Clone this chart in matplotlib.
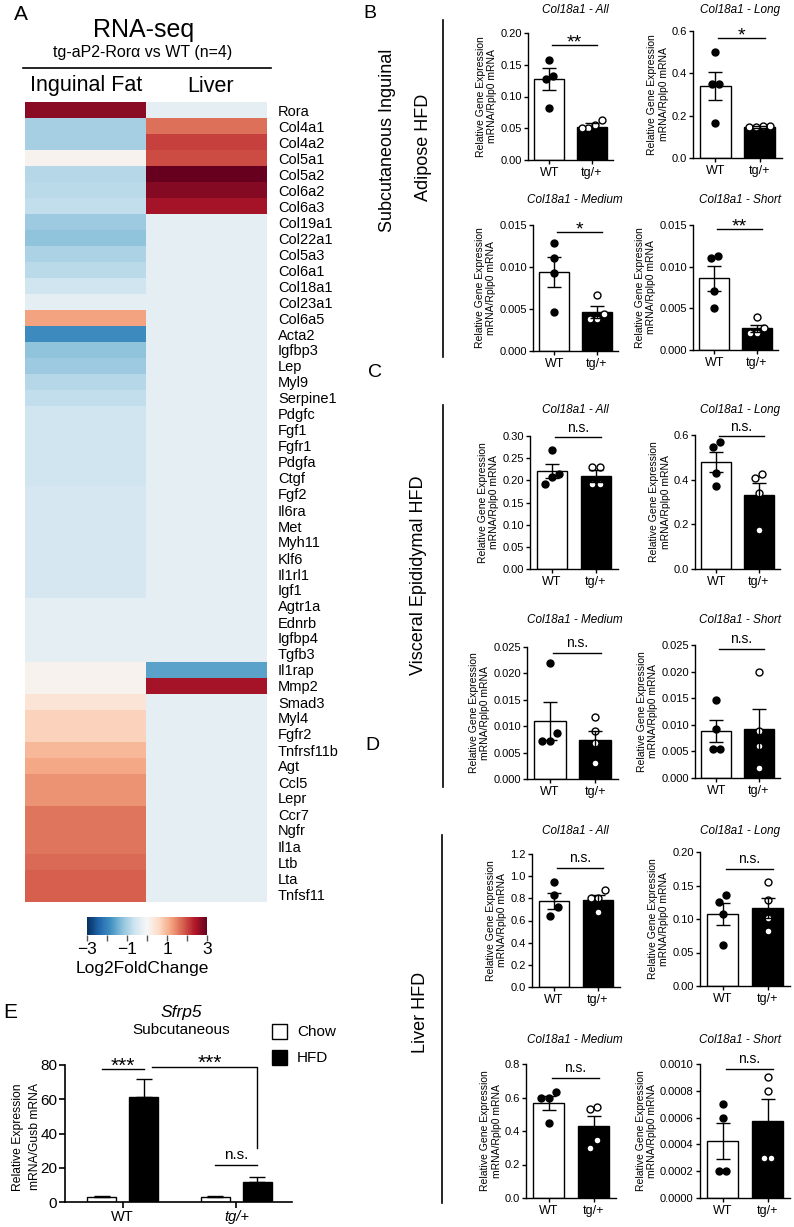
import numpy as np
import matplotlib
matplotlib.use('Agg')
import matplotlib.pyplot as plt
from matplotlib.lines import Line2D
from matplotlib.patches import Rectangle
from matplotlib.ticker import FormatStrFormatter

plt.rcParams['font.family'] = ['Liberation Sans', 'DejaVu Sans']

W, H = 794, 1227

# ---------------- panel A: RNA-seq heatmap (log2 fold change)
genes = ['Rora', 'Col4a1', 'Col4a2', 'Col5a1', 'Col5a2', 'Col6a2', 'Col6a3', 'Col19a1',
         'Col22a1', 'Col5a3', 'Col6a1', 'Col18a1', 'Col23a1', 'Col6a5', 'Acta2', 'Igfbp3',
         'Lep', 'Myl9', 'Serpine1', 'Pdgfc', 'Fgf1', 'Fgfr1', 'Pdgfa', 'Ctgf', 'Fgf2',
         'Il6ra', 'Met', 'Myh11', 'Klf6', 'Il1rl1', 'Igf1', 'Agtr1a', 'Ednrb', 'Igfbp4',
         'Tgfb3', 'Il1rap', 'Mmp2', 'Smad3', 'Myl4', 'Fgfr2', 'Tnfrsf11b', 'Agt', 'Ccl5',
         'Lepr', 'Ccr7', 'Ngfr', 'Il1a', 'Ltb', 'Lta', 'Tnfsf11']
inguinal_fc = [2.7, -1.0, -1.0, 0.1, -0.85, -0.8, -0.75, -1.1, -1.2, -0.95,
               -0.8, -0.6, -0.3, 1.2, -1.9, -1.2, -1.1, -0.85, -0.75, -0.6,
               -0.6, -0.6, -0.6, -0.6, -0.5, -0.5, -0.5, -0.5, -0.5, -0.5,
               -0.5, -0.3, -0.3, -0.3, -0.3, 0.1, 0.1, 0.4, 0.7, 0.7,
               1.0, 1.15, 1.35, 1.35, 1.6, 1.6, 1.6, 1.7, 1.8, 1.8]
liver_fc = [-0.3, 1.65, 2.05, 1.95, 3.0, 2.75, 2.5] + [-0.3] * 28 + [-1.6, 2.5] + [-0.3] * 13

# ---------------- panels B-D: Col18a1 isoforms, WT vs tg/+
isoforms = ['All', 'Long', 'Medium', 'Short']
genotypes = ['WT', 'tg/+']

# B: subcutaneous inguinal adipose
b_wt_pts = [[0.158, 0.133, 0.127, 0.082], [0.50, 0.35, 0.35, 0.165],
            [0.0129, 0.0111, 0.0093, 0.0046], [0.0113, 0.0110, 0.0071, 0.0051]]
b_tg_pts = [[0.063, 0.055, 0.050, 0.050], [0.150, 0.146, 0.146, 0.150],
            [0.0067, 0.0044, 0.0038, 0.0038], [0.0040, 0.0027, 0.0021, 0.0021]]
b_means = [[0.128, 0.052], [0.340, 0.146], [0.0094, 0.0046], [0.0086, 0.0026]]
b_sems = [[0.017, 0.006], [0.068, 0.004], [0.0018, 0.0007], [0.0015, 0.0004]]
b_sig = ['**', '*', '*', '**']
b_ymax = [0.20, 0.6, 0.015, 0.015]
b_step = [0.05, 0.2, 0.005, 0.005]

# C: visceral epididymal
c_wt_pts = [[0.268, 0.214, 0.208, 0.192], [0.570, 0.547, 0.430, 0.372],
            [0.0219, 0.0087, 0.0072, 0.0072], [0.0147, 0.0092, 0.0055, 0.0055]]
c_tg_pts = [[0.230, 0.230, 0.192, 0.192], [0.426, 0.408, 0.341, 0.175],
            [0.0117, 0.0090, 0.0068, 0.0030], [0.0199, 0.0088, 0.0060, 0.0019]]
c_means = [[0.221, 0.210], [0.480, 0.332], [0.0110, 0.0074], [0.0088, 0.0092]]
c_sems = [[0.016, 0.013], [0.045, 0.054], [0.0036, 0.0017], [0.0021, 0.0038]]
c_sig = ['n.s.', 'n.s.', 'n.s.', 'n.s.']
c_ymax = [0.30, 0.6, 0.025, 0.025]
c_step = [0.05, 0.2, 0.005, 0.005]

# D: liver
d_wt_pts = [[0.95, 0.83, 0.72, 0.64], [0.136, 0.125, 0.107, 0.061],
            [0.633, 0.597, 0.597, 0.448], [0.0007, 0.0006, 0.0002, 0.0002]]
d_tg_pts = [[0.875, 0.80, 0.80, 0.68], [0.155, 0.128, 0.101, 0.082],
            [0.543, 0.531, 0.346, 0.298], [0.0009, 0.0008, 0.0003, 0.0003]]
d_means = [[0.776, 0.785], [0.1075, 0.116], [0.567, 0.430], [0.000425, 0.000575]]
d_sems = [[0.07, 0.045], [0.0165, 0.015], [0.042, 0.06], [0.000135, 0.000165]]
d_sig = ['n.s.', 'n.s.', 'n.s.', 'n.s.']
d_ymax = [1.2, 0.20, 0.8, 0.0010]
d_step = [0.2, 0.05, 0.2, 0.0002]

# ---------------- panel E: Sfrp5
e_groups = ['WT', 'tg/+']
e_chow = [2.9, 3.0]
e_chow_sem = [0.4, 0.5]
e_hfd = [61.3, 11.7]
e_hfd_sem = [10.5, 2.7]

fig = plt.figure(figsize=(W / 100, H / 100), dpi=100)


def box(x0, y0, x1, y1):
    return [x0 / W, 1 - y1 / H, (x1 - x0) / W, (y1 - y0) / H]


def ftext(x, y, s, **kw):
    return fig.text(x / W, 1 - y / H, s, **kw)


def fline(xs, ys, lw=1.2):
    fig.add_artist(Line2D([x / W for x in xs], [1 - y / H for y in ys], color='black', lw=lw))


def swarm(vals, ymax, spread=0.16, thr=0.075):
    frac = np.array(vals) / ymax
    offs = np.zeros(len(vals))
    groups = []
    for i in np.argsort(frac):
        if groups and frac[i] - frac[groups[-1][-1]] < thr:
            groups[-1].append(i)
        else:
            groups.append([i])
    for g in groups:
        for k, i in enumerate(g):
            offs[i] = (k - (len(g) - 1) / 2) * spread
    return offs


# ---- A
ftext(21, 14, 'A', ha='center', va='center', fontsize=15)
ftext(144, 30, 'RNA-seq', ha='center', va='center', fontsize=18)
ftext(143, 53, 'tg-aP2-Rorα vs WT (n=4)', ha='center', va='center', fontsize=11.5)
fline([23, 271], [68, 68], lw=1.2)
ftext(86, 86, 'Inguinal Fat', ha='center', va='center', fontsize=15.5)
ftext(211, 87, 'Liver', ha='center', va='center', fontsize=15.5)

ax = fig.add_axes(box(25, 102, 267, 902))
mat = np.column_stack([inguinal_fc, liver_fc])
ax.imshow(mat, cmap='RdBu_r', vmin=-3, vmax=3, aspect='auto', interpolation='nearest')
ax.set_xticks([])
ax.yaxis.tick_right()
ax.set_yticks(range(len(genes)))
ax.set_yticklabels(genes, fontsize=10.5)
ax.tick_params(axis='y', length=0, pad=8)
for s in ax.spines.values():
    s.set_visible(False)

cax = fig.add_axes(box(87, 917, 207, 935))
sm = plt.cm.ScalarMappable(cmap='RdBu_r', norm=plt.Normalize(-3, 3))
cb = fig.colorbar(sm, cax=cax, orientation='horizontal')
cb.outline.set_visible(False)
cb.set_ticks([-3, -2, -1, 0, 1, 2, 3])
cb.set_ticklabels(['−3', '', '−1', '', '1', '', '3'])
cax.tick_params(length=4, width=1, color='#555555', labelsize=12.5, pad=1)
ftext(142, 969, 'Log2FoldChange', ha='center', va='center', fontsize=12.5)

# ---- B-D
sections = [
    ('B', (370, 13), b_wt_pts, b_tg_pts, b_means, b_sems, b_sig, b_ymax, b_step,
     [(528, 613, 33, 160), (693, 782, 31, 158), (533, 618, 225, 351), (693, 778, 225, 350)],
     [10, 200], [0.905, 0.945, 0.944, 0.97]),
    ('C', (375, 372), c_wt_pts, c_tg_pts, c_means, c_sems, c_sig, c_ymax, c_step,
     [(530, 618, 436, 569), (695, 780, 435, 569), (527, 618, 647, 779), (695, 780, 645, 778)],
     [410, 620], [0.99, 0.99, 0.955, 0.97]),
    ('D', (372, 745), d_wt_pts, d_tg_pts, d_means, d_sems, d_sig, d_ymax, d_step,
     [(532, 620, 854, 987), (700, 790, 852, 986), (526, 616, 1064, 1198), (700, 790, 1064, 1198)],
     [831, 1040], [0.895, 0.873, 0.895, 0.963]),
]

for letter, lpos, wt_pts, tg_pts, means, sems, sigs, ymaxs, steps, boxes, title_y, sig_fr in sections:
    ftext(lpos[0], lpos[1], letter, ha='center', va='center', fontsize=14)
    for k in range(4):
        x0, x1, yt, yb = boxes[k]
        ax = fig.add_axes(box(x0, yt, x1, yb))
        x = np.arange(2)
        ax.bar(x, means[k], width=0.7, color=['white', 'black'], edgecolor='black', linewidth=1, zorder=1)
        for xi, pts, face in [(0, wt_pts[k], 'black'), (1, tg_pts[k], 'white')]:
            ax.plot(xi + swarm(pts, ymaxs[k]), pts, 'o', ms=5, mfc=face, mec='black', mew=1,
                    zorder=3, clip_on=False)
        ax.errorbar(x, means[k], yerr=sems[k], fmt='none', ecolor='black', elinewidth=1,
                    capsize=5, capthick=1, zorder=4)
        ax.set_xlim(-0.5, 1.5)
        ax.set_ylim(0, ymaxs[k])
        ax.set_yticks(np.linspace(0, ymaxs[k], int(round(ymaxs[k] / steps[k])) + 1))
        nd = max(0, int(np.ceil(-np.log10(steps[k]) - 1e-9)))
        ax.yaxis.set_major_formatter(FormatStrFormatter('%.' + str(nd) + 'f'))
        ax.set_xticks(x)
        ax.set_xticklabels(genotypes, fontsize=9)
        ax.spines[['top', 'right']].set_visible(False)
        for s in ['left', 'bottom']:
            ax.spines[s].set_linewidth(1)
        ax.tick_params(axis='y', labelsize=8, length=3, width=1, pad=1.5)
        ax.tick_params(axis='x', length=3, width=1, pad=2)
        ax.set_ylabel('Relative Gene Expression\nmRNA/Rplp0 mRNA', fontsize=7.5, labelpad=2,
                      linespacing=1.2)
        ly = sig_fr[k] * ymaxs[k]
        ax.plot([0.07, 1.12], [ly, ly], color='black', lw=1, clip_on=False)
        if sigs[k] == 'n.s.':
            ax.annotate(sigs[k], (0.595, ly), xytext=(0, 7), textcoords='offset points',
                        ha='center', va='center', fontsize=10)
        else:
            ax.annotate(sigs[k], (0.595, ly), xytext=(0, 1.5), textcoords='offset points',
                        ha='center', va='center', fontsize=14)
        tx = 575 if k % 2 == 0 else 740
        ftext(tx, title_y[k // 2], 'Col18a1 - ' + isoforms[k], ha='center', va='center',
              fontsize=8.5, style='italic')

# section labels and separators
ftext(388, 140, 'Subcutaneous Inguinal', rotation=90, ha='center', va='center', fontsize=13)
ftext(423, 147, 'Adipose HFD', rotation=90, ha='center', va='center', fontsize=13)
fline([443, 443], [20, 357])
ftext(418, 575, 'Visceral Epididymal HFD', rotation=90, ha='center', va='center', fontsize=13)
fline([443, 443], [405, 787])
ftext(421, 1012, 'Liver HFD', rotation=90, ha='center', va='center', fontsize=13)
fline([442, 442], [835, 1203])

# ---- E
ftext(10, 1013, 'E', ha='center', va='center', fontsize=15)
ftext(181, 1013, 'Sfrp5', ha='center', va='center', fontsize=12.5, style='italic')
ftext(181, 1030, 'Subcutaneous', ha='center', va='center', fontsize=11)

ax = fig.add_axes(box(65, 1065, 292, 1202))
xc = np.arange(2)
off, bw = 0.185, 0.255
ax.bar(xc - off, e_chow, bw, color='white', edgecolor='black', linewidth=1, zorder=1)
ax.bar(xc + off, e_hfd, bw, color='black', edgecolor='black', linewidth=1, zorder=1)
ax.errorbar(xc - off, e_chow, yerr=[np.zeros(2), e_chow_sem], fmt='none', ecolor='black',
            elinewidth=1, capsize=6, capthick=1)
ax.errorbar(xc + off, e_hfd, yerr=[np.zeros(2), e_hfd_sem], fmt='none', ecolor='black',
            elinewidth=1, capsize=6, capthick=1)
ax.set_xlim(-0.507, 1.49)
ax.set_ylim(0, 80)
ax.set_yticks(range(0, 81, 20))
ax.set_xticks(xc)
ax.set_xticklabels(e_groups, fontsize=10.5)
ax.get_xticklabels()[1].set_style('italic')
ax.spines[['top', 'right']].set_visible(False)
for s in ['left', 'bottom']:
    ax.spines[s].set_linewidth(1.2)
ax.tick_params(axis='y', labelsize=11, length=4, width=1.2, pad=1.5)
ax.tick_params(axis='x', length=4, width=1.2, pad=2)

ax.plot([-off, off], [77.7, 77.7], color='black', lw=1, clip_on=False)
ax.annotate('***', (0.0, 77.7), xytext=(0, 2), textcoords='offset points', ha='center',
            va='center', fontsize=15)
ax.plot([0.26, 1 + off, 1 + off], [78.8, 78.8, 31.5], color='black', lw=1, clip_on=False)
ax.annotate('***', (0.77, 78.8), xytext=(0, 2.5), textcoords='offset points', ha='center',
            va='center', fontsize=15)
ax.plot([1 - off, 1 + off], [21.6, 21.6], color='black', lw=1)
ax.annotate('n.s.', (1.0, 21.6), xytext=(0, 7), textcoords='offset points', ha='center',
            va='center', fontsize=11)

ftext(18, 1137, 'Relative Expression', rotation=90, ha='center', va='center', fontsize=8.7)
ftext(35, 1137, 'mRNA/Gusb mRNA', rotation=90, ha='center', va='center', fontsize=8.7)

for yy, face, lab in [(1024, 'white', 'Chow'), (1050, 'black', 'HFD')]:
    fig.add_artist(Rectangle((272 / W, 1 - (yy + 15) / H), 15 / W, 15 / H, facecolor=face,
                             edgecolor='black', lw=1, transform=fig.transFigure))
    ftext(297, yy + 8, lab, ha='left', va='center', fontsize=11)

fig.savefig('out.png', dpi=100)
